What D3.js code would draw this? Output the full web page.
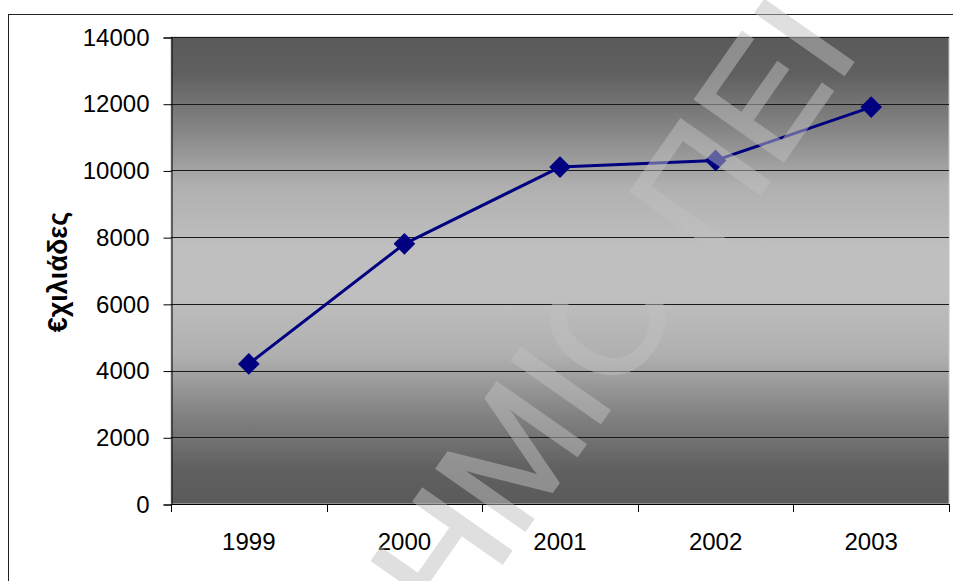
<!DOCTYPE html>
<html>
<head>
<meta charset="utf-8">
<script src="https://cdn.jsdelivr.net/npm/d3@7"></script>
<style>
  html, body { margin: 0; padding: 0; background: #fff; }
  svg { display: block; font-family: "Liberation Sans", Arial, sans-serif; }
</style>
</head>
<body>
<svg id="chart" width="953" height="581"></svg>
<script>
// Data
const years = ["1999", "2000", "2001", "2002", "2003"];
const values = [4200, 7800, 10100, 10300, 11900];
const yTicks = [0, 2000, 4000, 6000, 8000, 10000, 12000, 14000];
const yTitle = "€χιλιάδες";
const watermarkText = "ΗΜΙΟ ΠΕΙ";

const plot = { left: 171, top: 37, right: 949, bottom: 504 };

const svg = d3.select("#chart");

// Outer chart frame (runs past the right and bottom edges)
svg.append("rect")
  .attr("x", 8.5).attr("y", 14.5)
  .attr("width", 1000).attr("height", 700)
  .attr("fill", "none").attr("stroke", "#222").attr("stroke-width", 1);

const x = d3.scaleBand().domain(years).range([plot.left, plot.right]).padding(0);
const y = d3.scaleLinear().domain([0, 14000]).range([plot.bottom, plot.top]);

// Plot-area background: dark at top and bottom, light in the middle
const defs = svg.append("defs");
const grad = defs.append("linearGradient")
  .attr("id", "bg").attr("x1", 0).attr("y1", 0).attr("x2", 0).attr("y2", 1);
[
  [0, "#5a5a5a"], [0.08, "#606060"], [0.2, "#868686"], [0.32, "#b0b0b0"],
  [0.45, "#bfbfbf"], [0.55, "#bfbfbf"], [0.68, "#b0b0b0"], [0.8, "#858585"],
  [0.92, "#616161"], [1, "#5a5a5a"]
].forEach(([o, c]) => grad.append("stop").attr("offset", o).attr("stop-color", c));

svg.append("rect")
  .attr("x", plot.left).attr("y", plot.top)
  .attr("width", plot.right - plot.left).attr("height", plot.bottom - plot.top)
  .attr("fill", "url(#bg)")
  .attr("stroke", "#c4c4c4").attr("stroke-width", 1);

// Horizontal gridlines
svg.append("g")
  .selectAll("line")
  .data(yTicks.filter(d => d > 0))
  .join("line")
  .attr("x1", plot.left).attr("x2", plot.right)
  .attr("y1", d => Math.round(y(d)) + 0.5).attr("y2", d => Math.round(y(d)) + 0.5)
  .attr("stroke", "#1a1a1a").attr("stroke-width", 1);

// Y axis
const yAxis = svg.append("g")
  .attr("transform", `translate(${plot.left + 0.5},0.5)`)
  .call(d3.axisLeft(y).tickValues(yTicks).tickSize(8).tickPadding(14).tickFormat(d3.format("d")));
yAxis.select(".domain").attr("stroke", "#000");
yAxis.selectAll(".tick line").attr("stroke", "#000");
yAxis.selectAll(".tick text")
  .attr("font-family", "Liberation Sans, Arial, sans-serif")
  .attr("font-size", 24).attr("fill", "#000");

// X axis: labels centred in each category, ticks on category boundaries
const xAxis = svg.append("g")
  .attr("transform", `translate(0,${plot.bottom + 0.5})`)
  .call(d3.axisBottom(x).tickSize(0).tickPadding(28));
xAxis.select(".domain").remove();
xAxis.selectAll(".tick text")
  .attr("font-family", "Liberation Sans, Arial, sans-serif")
  .attr("font-size", 24).attr("fill", "#000");
svg.append("line")
  .attr("x1", plot.left).attr("x2", plot.right)
  .attr("y1", plot.bottom + 0.5).attr("y2", plot.bottom + 0.5)
  .attr("stroke", "#000");
const bounds = years.map(d => x(d)).concat([x(years[years.length - 1]) + x.bandwidth()]);
svg.append("g").selectAll("line")
  .data(bounds)
  .join("line")
  .attr("x1", d => Math.round(d) + 0.5).attr("x2", d => Math.round(d) + 0.5)
  .attr("y1", plot.bottom).attr("y2", plot.bottom + 8)
  .attr("stroke", "#000");

// Y axis title
svg.append("text")
  .attr("transform", `translate(67,272) rotate(-90)`)
  .attr("text-anchor", "middle")
  .attr("font-family", "Liberation Sans, Arial, sans-serif")
  .attr("font-weight", "bold")
  .attr("font-size", 27)
  .attr("fill", "#000")
  .text(yTitle);

// Series line and diamond markers
const cx = d => x(d) + x.bandwidth() / 2;
const line = d3.line().x((d, i) => cx(years[i])).y(d => y(d));
svg.append("path")
  .datum(values)
  .attr("d", line)
  .attr("fill", "none")
  .attr("stroke", "#000080")
  .attr("stroke-width", 3)
  .attr("stroke-linejoin", "round");
svg.append("g").selectAll("path")
  .data(values)
  .join("path")
  .attr("d", d3.symbol(d3.symbolSquare, 235))
  .attr("transform", (d, i) => `translate(${cx(years[i])},${y(d)}) rotate(45)`)
  .attr("fill", "#000080");

// Diagonal watermark over the whole chart
const wmSize = 156;
const wm = svg.append("g").attr("opacity", 0.5);
const wt = wm.append("text")
  .attr("font-family", "Liberation Sans, Arial, sans-serif")
  .attr("font-size", wmSize)
  .attr("fill", "#c0c0c0")
  .attr("stroke", "#c0c0c0")
  .attr("stroke-width", 3)
  .attr("paint-order", "stroke")
  .text(watermarkText);
const oIdx = watermarkText.indexOf("Ο");
const n = wt.node();
const oCx = (n.getStartPositionOfChar(oIdx).x + n.getEndPositionOfChar(oIdx).x) / 2;
const oCy = -0.688 * wmSize / 2;
wt.attr("transform", `translate(608,318) rotate(-55) translate(${-oCx},${-oCy})`);
</script>
</body>
</html>
